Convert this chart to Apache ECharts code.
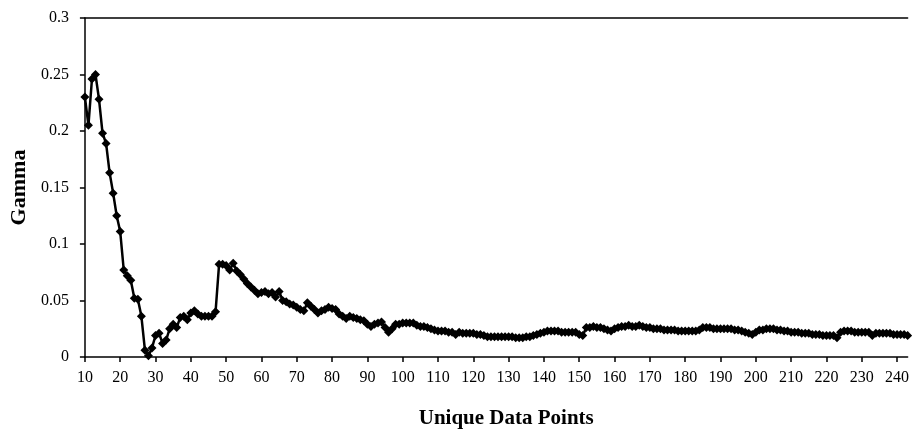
<!DOCTYPE html>
<html>
<head>
<meta charset="utf-8">
<script src="https://cdn.jsdelivr.net/npm/echarts@6/dist/echarts.min.js"></script>
<style>
  html, body { margin: 0; padding: 0; background: #fff; }
  #chart { width: 912px; height: 434px; }
</style>
</head>
<body>
<div id="chart"></div>
<script>
// first x value, one point per unique data point count after that
const firstPoint = 10;
const lastPoint = 243;
const yTicks = [0, 0.05, 0.1, 0.15, 0.2, 0.25, 0.3];

// gamma, x = 10 .. 243
const gamma = [
  0.230, 0.205, 0.246, 0.250, 0.228, 0.198, 0.189, 0.163, 0.145, 0.125, // 10-19
  0.111, 0.077, 0.072, 0.068, 0.052, 0.051, 0.036, 0.006, 0.001, 0.008, // 20-29
  0.019, 0.021, 0.012, 0.015, 0.025, 0.029, 0.026, 0.035, 0.036, 0.033, // 30-39
  0.039, 0.041, 0.038, 0.036, 0.036, 0.036, 0.036, 0.040, 0.082, 0.082, // 40-49
  0.081, 0.077, 0.083, 0.076, 0.073, 0.069, 0.065, 0.062, 0.059, 0.056, // 50-59
  0.057, 0.058, 0.056, 0.057, 0.053, 0.058, 0.050, 0.049, 0.047, 0.046, // 60-69
  0.044, 0.042, 0.041, 0.048, 0.045, 0.042, 0.039, 0.041, 0.042, 0.044, // 70-79
  0.043, 0.042, 0.038, 0.036, 0.034, 0.036, 0.035, 0.034, 0.033, 0.032, // 80-89
  0.029, 0.027, 0.029, 0.030, 0.031, 0.026, 0.022, 0.025, 0.029, 0.029, // 90-99
  0.030, 0.030, 0.030, 0.030, 0.028, 0.027, 0.027, 0.026, 0.025, 0.024, // 100-109
  0.023, 0.023, 0.023, 0.022, 0.022, 0.020, 0.022, 0.021, 0.021, 0.021, // 110-119
  0.021, 0.020, 0.020, 0.019, 0.018, 0.018, 0.018, 0.018, 0.018, 0.018, // 120-129
  0.018, 0.018, 0.017, 0.017, 0.017, 0.018, 0.018, 0.019, 0.020, 0.021, // 130-139
  0.022, 0.023, 0.023, 0.023, 0.023, 0.022, 0.022, 0.022, 0.022, 0.022, // 140-149
  0.020, 0.019, 0.026, 0.026, 0.027, 0.026, 0.026, 0.025, 0.024, 0.023, // 150-159
  0.025, 0.026, 0.027, 0.027, 0.028, 0.027, 0.027, 0.028, 0.027, 0.026, // 160-169
  0.026, 0.025, 0.025, 0.025, 0.024, 0.024, 0.024, 0.024, 0.023, 0.023, // 170-179
  0.023, 0.023, 0.023, 0.023, 0.024, 0.026, 0.026, 0.026, 0.025, 0.025, // 180-189
  0.025, 0.025, 0.025, 0.025, 0.024, 0.024, 0.023, 0.022, 0.021, 0.020, // 190-199
  0.022, 0.024, 0.024, 0.025, 0.025, 0.025, 0.024, 0.024, 0.023, 0.023, // 200-209
  0.022, 0.022, 0.022, 0.021, 0.021, 0.021, 0.020, 0.020, 0.020, 0.019, // 210-219
  0.019, 0.019, 0.019, 0.017, 0.022, 0.023, 0.023, 0.023, 0.022, 0.022, // 220-229
  0.022, 0.022, 0.022, 0.019, 0.021, 0.021, 0.021, 0.021, 0.021, 0.020, // 230-239
  0.020, 0.020, 0.020, 0.019                                              // 240-243
];

const points = gamma.map((v, i) => [firstPoint + i, v]);

const serif = '"Liberation Serif", "DejaVu Serif", serif';

let chart = echarts.init(document.getElementById('chart'), null, {renderer: 'canvas'});
let option = {
  animation: false,
  backgroundColor: '#fff',
  grid: {
    left: 82,
    right: 0,
    top: 18,
    bottom: 76
  },
  xAxis: [
    {
      type: 'value',
      min: firstPoint,
      max: lastPoint,
      interval: 10,
      name: 'Unique Data Points',
      nameLocation: 'middle',
      nameGap: 51,
      nameTextStyle: {fontFamily: serif, fontSize: 21, fontWeight: 'bold', color: '#000', padding: [0, 0, 0, 20]},
      axisLine: {lineStyle: {color: '#000', width: 1.5}},
      axisTick: {length: 5, lineStyle: {color: '#000', width: 1.5}},
      axisLabel: {
        fontFamily: serif, fontSize: 16, color: '#000', margin: 13,
        showMaxLabel: false,
        formatter: (v) => (v % 10 === 0 ? String(v) : '')
      },
      splitLine: {show: false}
    },
    {
      // top frame line only
      type: 'value',
      position: 'top',
      min: firstPoint,
      max: lastPoint,
      axisLine: {show: true, lineStyle: {color: '#000', width: 1.5}},
      axisTick: {show: false},
      axisLabel: {show: false},
      splitLine: {show: false}
    }
  ],
  yAxis: {
    type: 'value',
    min: yTicks[0],
    max: yTicks[yTicks.length - 1],
    interval: 0.05,
    name: 'Gamma',
    nameLocation: 'middle',
    nameGap: 54,
    nameTextStyle: {fontFamily: serif, fontSize: 22, fontWeight: 'bold', color: '#000'},
    axisLine: {show: true, lineStyle: {color: '#000', width: 1.5}},
    axisTick: {show: true, length: 5, lineStyle: {color: '#000', width: 1.5}},
    axisLabel: {
      fontFamily: serif, fontSize: 16, color: '#000', margin: 16,
      formatter: (v) => String(+v.toFixed(2))
    },
    splitLine: {show: false}
  },
  series: [{
    type: 'line',
    data: points,
    symbol: 'diamond',
    symbolSize: 9,
    showAllSymbol: true,
    color: '#000',
    itemStyle: {color: '#000'},
    lineStyle: {color: '#000', width: 2.5}
  }]
};
chart.setOption(option);
</script>
</body>
</html>
